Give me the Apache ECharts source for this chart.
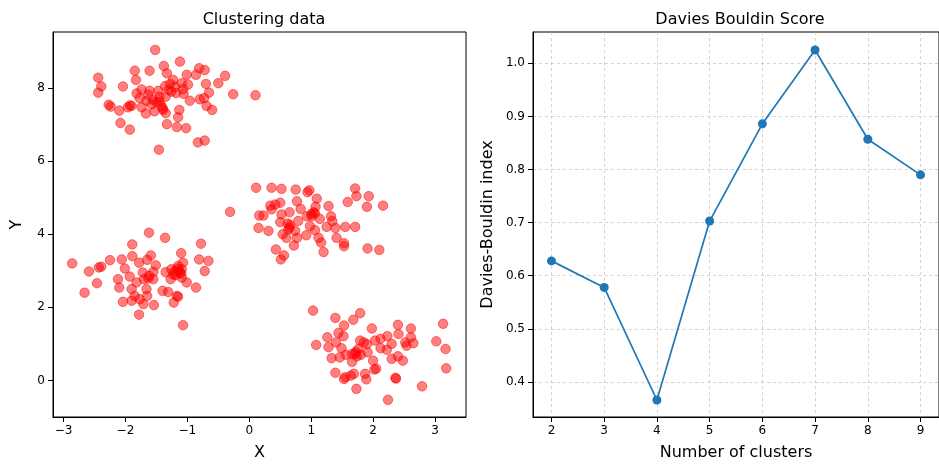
<!DOCTYPE html>
<html>
<head>
<meta charset="utf-8">
<script src="https://cdn.jsdelivr.net/npm/echarts@6/dist/echarts.min.js"></script>
<style>html,body{margin:0;padding:0;background:#fff}#c{width:939px;height:466px}</style>
</head>
<body>
<div id="c"></div>
<script>
// ---- Data ----
const clusterA = [[-1.52,9.04],[-1.12,8.72],[-1.38,8.60],[-1.85,8.47],[-1.61,8.47],[-1.33,8.40],[-1.01,8.36],[-0.81,8.54],[-0.72,8.49],[-0.86,8.36],[-0.39,8.33],[-2.44,8.28],[-2.39,8.04],[-2.44,7.87],[-2.04,8.04],[-1.83,8.22],[-1.23,8.22],[-1.09,8.13],[-0.99,8.09],[-0.70,8.11],[-0.50,8.13],[-0.65,7.87],[-0.26,7.83],[0.10,7.80],[-1.74,7.96],[-1.61,7.92],[-1.47,7.92],[-1.36,8.05],[-1.28,8.11],[-1.18,7.86],[-1.06,7.84],[-1.77,7.72],[-1.66,7.65],[-1.55,7.67],[-1.45,7.63],[-1.35,7.76],[-1.42,7.51],[-1.39,7.40],[-1.53,7.36],[-1.67,7.30],[-1.74,7.47],[-1.90,7.51],[-1.96,7.47],[-2.10,7.38],[-2.27,7.54],[-2.24,7.49],[-1.93,7.52],[-1.35,7.31],[-1.13,7.40],[-1.15,7.20],[-0.96,7.65],[-0.80,7.69],[-0.73,7.72],[-0.69,7.51],[-0.60,7.40],[-1.33,7.01],[-1.17,6.93],[-1.02,6.90],[-2.08,7.04],[-1.93,6.86],[-0.83,6.51],[-0.72,6.56],[-1.46,6.31],[-1.63,7.81],[-1.45,7.76],[-1.26,7.90],[-1.20,8.03],[-1.50,7.62],[-1.82,7.85],[-1.07,7.97],[-1.40,7.45],[-1.58,7.55],[-1.30,7.95]];
const clusterB = [[-2.86,3.20],[-2.66,2.40],[-2.59,2.98],[-2.46,2.66],[-2.43,3.09],[-2.39,3.11],[-2.25,3.29],[-2.06,3.31],[-2.01,3.06],[-2.12,2.77],[-2.10,2.54],[-2.04,2.15],[-1.89,3.72],[-1.89,3.40],[-1.78,3.22],[-1.93,2.84],[-1.90,2.50],[-1.90,2.18],[-1.85,2.31],[-1.77,2.22],[-1.78,1.80],[-1.62,4.04],[-1.65,3.30],[-1.59,3.42],[-1.51,3.15],[-1.72,2.95],[-1.70,2.77],[-1.63,2.79],[-1.55,2.97],[-1.55,2.77],[-1.66,2.50],[-1.65,2.31],[-1.71,2.09],[-1.54,2.06],[-1.82,2.68],[-1.36,3.90],[-1.40,2.45],[-1.31,2.42],[-1.35,2.96],[-1.26,3.04],[-1.20,2.99],[-1.27,2.77],[-1.17,2.31],[-1.22,2.13],[-1.15,2.29],[-1.10,3.48],[-1.07,3.22],[-1.12,2.95],[-1.09,3.04],[-1.15,3.13],[-1.19,2.88],[-1.01,2.68],[-1.07,1.51],[-0.86,2.54],[-0.81,3.31],[-0.78,3.74],[-0.72,2.99],[-0.66,3.27],[-1.09,2.81],[-1.23,2.90],[-1.13,3.00],[-1.10,2.92],[-1.16,3.06],[-1.62,2.86]];
const clusterC = [[-0.31,4.61],[0.11,5.27],[0.36,5.27],[0.52,5.24],[0.75,5.22],[0.94,5.15],[0.97,5.20],[1.09,4.97],[1.71,5.25],[1.73,5.04],[1.93,5.04],[1.59,4.88],[1.90,4.75],[2.16,4.78],[0.34,4.78],[0.42,4.81],[0.50,4.86],[0.36,4.68],[0.77,4.90],[0.83,4.69],[1.07,4.75],[1.28,4.77],[0.16,4.51],[0.23,4.51],[0.52,4.54],[0.65,4.60],[0.50,4.33],[0.62,4.29],[0.79,4.36],[0.93,4.49],[1.01,4.49],[1.06,4.57],[1.14,4.42],[1.32,4.49],[1.34,4.36],[0.15,4.17],[0.31,4.09],[0.63,4.13],[0.74,4.09],[0.98,4.22],[1.06,4.11],[1.25,4.20],[1.39,4.17],[1.55,4.20],[1.71,4.20],[0.54,4.00],[0.60,3.90],[0.77,3.90],[0.92,3.97],[1.12,3.90],[1.16,3.77],[1.41,3.90],[1.53,3.75],[1.53,3.67],[0.72,3.69],[0.43,3.58],[0.56,3.42],[0.51,3.31],[1.20,3.51],[1.91,3.61],[2.10,3.57],[0.65,4.18],[1.04,4.60],[0.66,4.25],[1.00,4.55]];
const clusterD = [[1.03,1.91],[1.39,1.71],[1.79,1.84],[1.68,1.66],[1.53,1.50],[1.98,1.42],[2.40,1.52],[2.61,1.42],[3.13,1.55],[1.08,0.97],[1.26,1.18],[1.44,1.30],[1.52,1.21],[1.28,0.91],[1.40,1.04],[1.49,0.88],[1.33,0.61],[1.46,0.63],[1.56,0.70],[1.66,0.51],[1.71,0.72],[1.76,0.86],[1.79,1.09],[1.85,1.04],[1.74,0.66],[1.91,0.77],[2.00,0.54],[2.03,1.09],[2.12,1.14],[2.23,1.21],[2.12,0.88],[2.22,0.84],[2.30,1.00],[2.30,0.59],[2.41,1.27],[2.52,1.04],[2.54,0.95],[2.61,1.18],[2.65,1.02],[2.40,0.66],[2.48,0.54],[3.02,1.07],[3.17,0.86],[3.18,0.33],[1.39,0.21],[1.55,0.09],[1.64,0.13],[1.69,0.18],[1.87,0.18],[1.89,0.03],[2.02,0.30],[2.36,0.07],[1.73,-0.23],[2.24,-0.53],[2.79,-0.16],[2.05,0.32],[1.90,0.99],[1.66,0.72],[1.53,0.04],[2.37,0.05],[1.72,0.78],[1.80,0.70]];
const scatterXTicks = [-3,-2,-1,0,1,2,3];
const scatterYTicks = [0,2,4,6,8];
const kValues = [2,3,4,5,6,7,8,9];
const dbScores = [0.628,0.578,0.366,0.703,0.886,1.025,0.857,0.790];
const dbYTicks = [0.4,0.5,0.6,0.7,0.8,0.9,1.0];

const allPoints = clusterA.concat(clusterB, clusterC, clusterD);
const FONT = '"DejaVu Sans", sans-serif';
const minus = v => String(v).replace('-', '\u2212');

const axisCommon = {
  axisLine: {show: true, onZero: false, lineStyle: {color: '#000', width: 1}},
  axisTick: {show: true, inside: false, length: 5, lineStyle: {color: '#000'}},
  axisLabel: {color: '#000', fontSize: 12, fontFamily: FONT, margin: 8},
  nameTextStyle: {color: '#000', fontSize: 16, fontFamily: FONT},
  nameLocation: 'middle'
};
const gridLine = {show: true, lineStyle: {color: '#b0b0b0', type: [3, 3], width: 0.8, opacity: 0.7}};

const chart = echarts.init(document.getElementById('c'), null, {renderer: 'canvas'});
chart.setOption({
  animation: false,
  backgroundColor: '#fff',
  title: [
    {text: 'Clustering data', left: 259, top: 7, textAlign: 'center',
     textStyle: {fontSize: 16, fontWeight: 'normal', color: '#000', fontFamily: FONT}},
    {text: 'Davies Bouldin Score', left: 735, top: 7, textAlign: 'center',
     textStyle: {fontSize: 16, fontWeight: 'normal', color: '#000', fontFamily: FONT}}
  ],
  grid: [
    {left: 53, right: 473, top: 32, bottom: 48, show: true, borderColor: '#000', borderWidth: 1, containLabel: false},
    {left: 533, right: -8, top: 32, bottom: 48, show: true, borderColor: '#000', borderWidth: 1, containLabel: false}
  ],
  xAxis: [
    Object.assign({}, axisCommon, {
      type: 'value', gridIndex: 0, min: -3.17, max: 3.5, name: 'X', nameGap: 28,
      splitLine: {show: false},
      axisTick: Object.assign({}, axisCommon.axisTick, {customValues: scatterXTicks}),
      axisLabel: Object.assign({}, axisCommon.axisLabel, {customValues: scatterXTicks, formatter: minus})
    }),
    Object.assign({}, axisCommon, {
      type: 'value', gridIndex: 1, min: 1.65, max: 9.35, name: 'Number of clusters', nameGap: 28,
      splitLine: Object.assign({customValues: kValues}, gridLine),
      axisTick: Object.assign({}, axisCommon.axisTick, {customValues: kValues}),
      axisLabel: Object.assign({}, axisCommon.axisLabel, {customValues: kValues})
    })
  ],
  yAxis: [
    Object.assign({}, axisCommon, {
      type: 'value', gridIndex: 0, min: -1.0, max: 9.53, name: 'Y', nameGap: 28,
      splitLine: {show: false},
      axisTick: Object.assign({}, axisCommon.axisTick, {customValues: scatterYTicks}),
      axisLabel: Object.assign({}, axisCommon.axisLabel, {customValues: scatterYTicks, formatter: minus})
    }),
    Object.assign({}, axisCommon, {
      type: 'value', gridIndex: 1, min: 0.334, max: 1.059, name: 'Davies-Bouldin index', nameGap: 37,
      splitLine: Object.assign({customValues: dbYTicks}, gridLine),
      axisTick: Object.assign({}, axisCommon.axisTick, {customValues: dbYTicks}),
      axisLabel: Object.assign({}, axisCommon.axisLabel, {customValues: dbYTicks, formatter: v => Number(v).toFixed(1)})
    })
  ],
  series: [
    {
      type: 'scatter', xAxisIndex: 0, yAxisIndex: 0, data: allPoints,
      symbolSize: 9.5,
      itemStyle: {color: 'rgba(255,0,0,0.5)', borderColor: 'rgba(255,0,0,0.5)', borderWidth: 1, opacity: 1},
      emphasis: {disabled: true}
    },
    {
      type: 'line', xAxisIndex: 1, yAxisIndex: 1,
      data: kValues.map((k, i) => [k, dbScores[i]]),
      symbol: 'circle', symbolSize: 9, showSymbol: true,
      lineStyle: {color: '#1f77b4', width: 1.7},
      itemStyle: {color: '#1f77b4', borderWidth: 0},
      emphasis: {disabled: true}
    }
  ]
});
</script>
</body>
</html>
